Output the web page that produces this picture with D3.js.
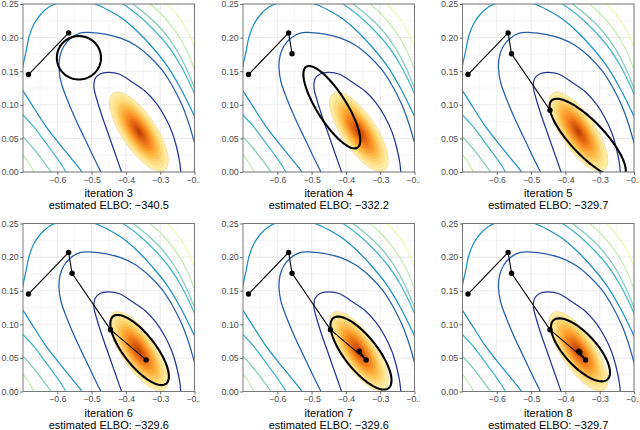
<!DOCTYPE html>
<html>
<head>
<meta charset="utf-8">
<script src="https://cdn.jsdelivr.net/npm/d3@7"></script>
<style>
  body { margin: 0; background: #fff; }
  text { font-family: "Liberation Sans", Arial, sans-serif; }
</style>
</head>
<body>
<script>
// ---- data ----
const iterations = [3, 4, 5, 6, 7, 8];
const elbo = [-340.5, -332.2, -329.7, -329.6, -329.6, -329.7];

// optimisation path of the variational mean
const pathX = [-0.684, -0.567, -0.557, -0.445, -0.341, -0.361, -0.358];
const pathY = [0.145, 0.207, 0.176, 0.092, 0.047, 0.060, 0.058];

// variational ellipse per iteration (centre, x / y half extent, correlation)
const qMeanX = [-0.537, -0.441, -0.335, -0.360, -0.356, -0.356];
const qMeanY = [0.170, 0.0964, 0.050, 0.0617, 0.0572, 0.062];
const qSdX = [0.0643, 0.0829, 0.111, 0.0853, 0.089, 0.086];
const qSdY = [0.0323, 0.0613, 0.059, 0.0522, 0.0543, 0.0469];
const qRho = [0.0, -0.80, -0.81, -0.75, -0.75, -0.72];

// posterior density (filled bands, relative size of each band)
const postMean = [-0.362, 0.060];
const postSd = [0.0855, 0.059];
const postRho = -0.73;
const postBands = [1, 0.92, 0.84, 0.76, 0.69, 0.62, 0.55, 0.48, 0.41, 0.34, 0.27, 0.2, 0.13, 0.07];

// log-density contour lines, inner to outer (each a list of pieces)
const contourL1 = [[[-0.4085,-0.006],[-0.4289,0.0238],[-0.4493,0.0536],[-0.4697,0.0833],[-0.4843,0.1071],[-0.4930,0.125],[-0.4901,0.1384],[-0.4755,0.1458],[-0.4522,0.1481],[-0.4201,0.1458],[-0.3822,0.1339],[-0.3443,0.1205],[-0.3122,0.1027],[-0.2860,0.0818],[-0.2656,0.0595],[-0.2510,0.0342],[-0.2423,0.0119],[-0.2394,-0.006]]];
const contourL2 = [[[-0.4668,-0.006],[-0.4959,0.0238],[-0.5222,0.0521],[-0.5484,0.0804],[-0.5717,0.1086],[-0.5892,0.1339],[-0.5950,0.1548],[-0.5921,0.1726],[-0.5805,0.1875],[-0.5601,0.1994],[-0.5338,0.2068],[-0.5017,0.2075],[-0.4609,0.2053],[-0.4172,0.1995],[-0.3735,0.189],[-0.3327,0.1726],[-0.2948,0.1518],[-0.2627,0.1265],[-0.2364,0.0997],[-0.2160,0.0714],[-0.2015,0.0461],[-0.1898,0.0268]]];
const contourL3 = [[[-0.5163,-0.0104],[-0.5280,0.0],[-0.5601,0.0208],[-0.5980,0.0446],[-0.6359,0.0699],[-0.6679,0.0952],[-0.6900,0.1130],[-0.7040,0.1250],[-0.7044,0.1380],[-0.7000,0.1580],[-0.6913,0.1786],[-0.6825,0.2009],[-0.6679,0.2202],[-0.6475,0.2351],[-0.6242,0.2455],[-0.5980,0.2515],[-0.5601,0.2545],[-0.5192,0.2530],[-0.4901,0.25],[-0.4522,0.2411],[-0.4085,0.2277],[-0.3647,0.2083],[-0.3210,0.1845],[-0.2772,0.1562],[-0.2394,0.1235],[-0.2102,0.0937],[-0.1898,0.0714]]];
const contourL4 = [
  [[-0.7146,0.0923],[-0.7,0.0848],[-0.6708,0.0685],[-0.6417,0.0491],[-0.6096,0.0268],[-0.5834,0.0074],[-0.5688,-0.006]],
  [[-0.4318,0.2574],[-0.4085,0.25],[-0.3647,0.2336],[-0.3210,0.2128],[-0.2772,0.1875],[-0.2394,0.1577],[-0.2102,0.1280],[-0.1898,0.1042]]
];
const contourL5 = [
  [[-0.7146,0.0580],[-0.7,0.0521],[-0.6708,0.0357],[-0.6417,0.0164],[-0.6184,0.0],[-0.6067,-0.0089]],
  [[-0.3997,0.2574],[-0.3793,0.25],[-0.3356,0.2321],[-0.2918,0.2098],[-0.2539,0.1830],[-0.2219,0.1518],[-0.1956,0.1190]]
];
const contourL6 = [
  [[-0.7146,0.0312],[-0.7,0.0253],[-0.6825,0.0134],[-0.6679,0.0],[-0.6592,-0.0089]],
  [[-0.3501,0.2574],[-0.3297,0.25],[-0.2918,0.2321],[-0.2539,0.2083],[-0.2219,0.1801],[-0.1956,0.1458]]
];
const contourL7 = [
  [[-0.2977,0.2574],[-0.2802,0.25],[-0.2481,0.2321],[-0.2190,0.2083],[-0.1985,0.1830],[-0.1810,0.1607]]
];
const contourLines = [contourL1, contourL2, contourL3, contourL4, contourL5, contourL6, contourL7];
const contourColors = ['#253494', '#225ea8', '#1d91c0', '#41b6c4', '#7fcdbb', '#c7e9b4', '#edf8b1'];

// axes
const xTicks = [-0.6, -0.5, -0.4, -0.3, -0.2];
const xMinor = [-0.65, -0.55, -0.45, -0.35, -0.25];
const yTicks = [0, 0.05, 0.10, 0.15, 0.20, 0.25];
const yMinor = [0.025, 0.075, 0.125, 0.175, 0.225];

// ---- layout ----
const W = 640, H = 430;
const panelW = 171.5, panelH = 168;
const colX = [23, 243, 462.5];
const rowY = [4, 223.5];

const x = d3.scaleLinear().domain([-0.7, -0.2]).range([0, panelW]);
const y = d3.scaleLinear().domain([0, 0.25]).range([panelH, 0]);

const svg = d3.select('body').append('svg')
  .attr('width', W).attr('height', H);

const defs = svg.append('defs');
defs.append('clipPath').attr('id', 'plotClip')
  .append('rect').attr('width', panelW).attr('height', panelH);
defs.append('clipPath').attr('id', 'subClip')
  .append('rect').attr('x', -40).attr('y', -10).attr('width', panelW + 45).attr('height', 230);

const line = d3.line().x(d => x(d[0])).y(d => y(d[1]));
const smooth = d3.line().x(d => x(d[0])).y(d => y(d[1])).curve(d3.curveCatmullRom.alpha(0.5));

function ellipsePts(cx, cy, sx, sy, rho, n = 160) {
  return d3.range(n + 1).map(i => {
    const t = 2 * Math.PI * i / n;
    return [cx + sx * Math.cos(t), cy + sy * (rho * Math.cos(t) + Math.sqrt(1 - rho * rho) * Math.sin(t))];
  });
}

const fmtX = d3.format('.1f');
const fmtY = d3.format('.2f');
const dens = d3.scaleLinear().domain([0, postBands.length - 1]).range([0.18, 0.8]);

iterations.forEach((it, k) => {
  const g = svg.append('g')
    .attr('transform', `translate(${colX[k % 3]},${rowY[Math.floor(k / 3)]})`);
  const sub = g.append('g').attr('clip-path', 'url(#subClip)');

  // background grid
  const grid = sub.append('g');
  grid.selectAll('.xm').data(xMinor).join('line')
    .attr('x1', d => x(d)).attr('x2', d => x(d)).attr('y1', 0).attr('y2', panelH)
    .attr('stroke', '#f2f2f2').attr('stroke-width', 0.7);
  grid.selectAll('.ym').data(yMinor).join('line')
    .attr('y1', d => y(d)).attr('y2', d => y(d)).attr('x1', 0).attr('x2', panelW)
    .attr('stroke', '#f2f2f2').attr('stroke-width', 0.7);
  grid.selectAll('.xM').data(xTicks).join('line')
    .attr('x1', d => x(d)).attr('x2', d => x(d)).attr('y1', 0).attr('y2', panelH)
    .attr('stroke', '#ebebeb').attr('stroke-width', 1.1);
  grid.selectAll('.yM').data(yTicks).join('line')
    .attr('y1', d => y(d)).attr('y2', d => y(d)).attr('x1', 0).attr('x2', panelW)
    .attr('stroke', '#ebebeb').attr('stroke-width', 1.1);

  const plot = sub.append('g').attr('clip-path', 'url(#plotClip)');

  // posterior density bands
  plot.selectAll('.band').data(postBands).join('path')
    .attr('d', r => line(ellipsePts(postMean[0], postMean[1], postSd[0] * r, postSd[1] * r, postRho)))
    .attr('fill', (r, i) => d3.interpolateYlOrBr(dens(i)))
    .attr('stroke', (r, i) => i === 0 ? '#f3cf7e' : 'none')
    .attr('stroke-width', 0.6);

  // contour lines
  contourLines.forEach((segs, c) => {
    plot.selectAll(null).data(segs).join('path')
      .attr('d', smooth)
      .attr('fill', 'none')
      .attr('stroke', contourColors[c])
      .attr('stroke-width', 1.25);
  });

  // variational approximation
  plot.append('path')
    .attr('d', line(ellipsePts(qMeanX[k], qMeanY[k], qSdX[k], qSdY[k], qRho[k])))
    .attr('fill', 'none').attr('stroke', '#000').attr('stroke-width', 2.1);

  // path of the mean so far
  const pts = d3.range(it - 1).map(i => [pathX[i], pathY[i]]);
  plot.append('path').attr('d', line(pts))
    .attr('fill', 'none').attr('stroke', '#000').attr('stroke-width', 1.1);
  plot.selectAll('.pt').data(pts).join('circle')
    .attr('cx', d => x(d[0])).attr('cy', d => y(d[1])).attr('r', 2.7).attr('fill', '#000');

  // panel border
  sub.append('rect').attr('width', panelW).attr('height', panelH)
    .attr('fill', 'none').attr('stroke', '#6e6e6e').attr('stroke-width', 0.9);

  // axes
  const xa = sub.append('g').attr('transform', `translate(0,${panelH})`)
    .call(d3.axisBottom(x).tickValues(xTicks).tickSize(2.8).tickSizeOuter(0).tickPadding(1.5).tickFormat(fmtX));
  const ya = sub.append('g')
    .call(d3.axisLeft(y).tickValues(yTicks).tickSize(2.8).tickSizeOuter(0).tickPadding(1.5).tickFormat(fmtY));
  [xa, ya].forEach(a => {
    a.select('.domain').remove();
    a.selectAll('line').attr('stroke', '#444').attr('stroke-width', 0.8);
    a.selectAll('text').attr('fill', '#4d4d4d').style('font-size', '8.8px')
      .style('font-family', '"Liberation Sans", Arial, sans-serif');
  });

  // axis title
  sub.append('text').attr('x', panelW / 2).attr('y', panelH + 25)
    .attr('text-anchor', 'middle').style('font-size', '11px').attr('fill', '#000')
    .text(`iteration ${it}`);
  sub.append('text').attr('x', panelW / 2).attr('y', panelH + 37)
    .attr('text-anchor', 'middle').style('font-size', '11px').attr('fill', '#000')
    .text(`estimated ELBO: ${fmtX(elbo[k])}`);
});
</script>
</body>
</html>
